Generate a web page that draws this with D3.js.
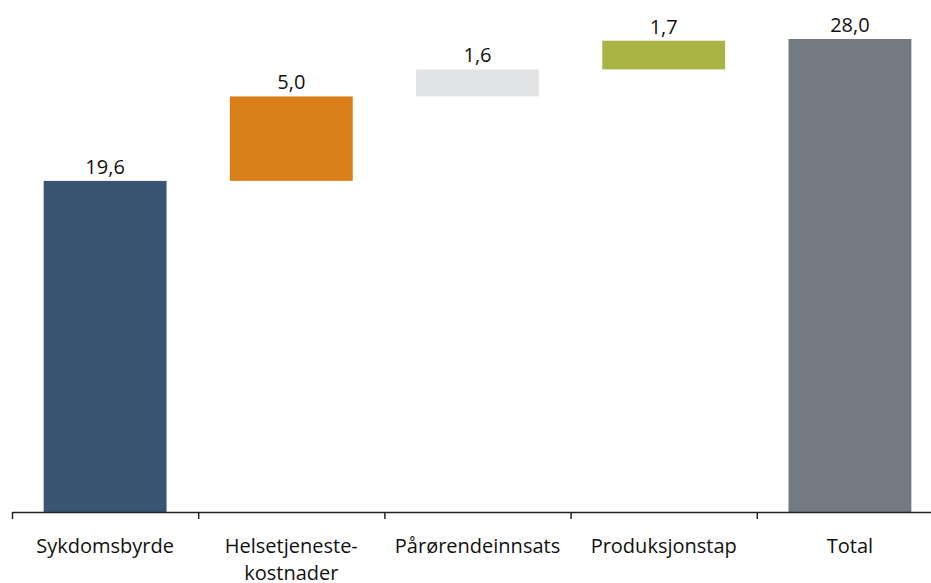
<!doctype html>
<html lang="no">
<head>
	<meta charset="utf-8">
	<title>Waterfall</title>
	<script src="https://cdn.jsdelivr.net/npm/d3@7"></script>
	<style>
		body { margin: 0; background: #fff; }
		svg text { font-family: "Open Sans", sans-serif; fill: #111; }
	</style>
</head>
<body>
	<svg id="chart" width="931" height="583"></svg>
	<script>
		var categories = ["Sykdomsbyrde", "Helsetjeneste-|kostnader", "Pårørendeinnsats", "Produksjonstap", "Total"];
		var values = [19.6, 5.0, 1.6, 1.7, 28.0];
		var isTotal = [false, false, false, false, true];
		var colors = ["#3a5572", "#d97f1a", "#e2e3e5", "#a8b544", "#737a82"];

		// build steps for waterfall
		var data = [];
		var run = 0;
		values.forEach(function(v, i) {
			var start = isTotal[i] ? 0 : run;
			var end = isTotal[i] ? v : run + v;
			if (!isTotal[i]) run = end;
			data.push({ cat: categories[i], value: v, start: start, end: end, color: colors[i] });
		});

		var svg = d3.select("#chart");
		var baseY = 512;

		var x = d3.scaleBand().domain(categories).range([12, 943]).paddingInner(0.34).paddingOuter(0.17);
		var y = d3.scaleLinear().domain([0, 28]).range([baseY, 39]);

		svg.selectAll("rect.bar")
			.data(data)
			.enter()
			.append("rect")
			.attr("class", "bar")
			.attr("x", function(d) { return x(d.cat); })
			.attr("width", x.bandwidth())
			.attr("y", function(d) { return y(d.end); })
			.attr("height", function(d) { return y(d.start) - y(d.end); })
			.attr("fill", function(d) { return d.color; });

		svg.selectAll("text.val")
			.data(data)
			.enter()
			.append("text")
			.attr("class", "val")
			.attr("x", function(d) { return x(d.cat) + x.bandwidth() / 2; })
			.attr("y", function(d) { return y(d.end) - 7; })
			.attr("text-anchor", "middle")
			.style("font-size", "20px")
			.text(function(d) { return d.value.toFixed(1).replace(".", ","); });

		// x axis with ticks at category boundaries
		var edge = d3.scaleLinear().domain([0, categories.length]).range([12, 943]);
		var xAxis = d3.axisBottom(edge)
			.tickValues(d3.range(categories.length + 1))
			.tickSize(7)
			.tickSizeOuter(0)
			.tickFormat("");
		svg.append("g")
			.attr("transform", "translate(0," + baseY + ")")
			.call(xAxis)
			.call(function(g) {
				g.select(".domain").attr("stroke", "#222").attr("stroke-width", 1.5);
				g.selectAll(".tick line").attr("stroke", "#222").attr("stroke-width", 1.5);
			});

		var labels = svg.selectAll("text.cat")
			.data(data)
			.enter()
			.append("text")
			.attr("class", "cat")
			.attr("text-anchor", "middle")
			.style("font-size", "20px")
			.attr("transform", function(d) { return "translate(" + (x(d.cat) + x.bandwidth() / 2) + ",553)"; });
		labels.selectAll("tspan")
			.data(function(d) { return d.cat.split("|"); })
			.enter()
			.append("tspan")
			.attr("x", 0)
			.attr("dy", function(d, i) { return i ? 27 : 0; })
			.text(function(d) { return d; });
	</script>
</body>
</html>
